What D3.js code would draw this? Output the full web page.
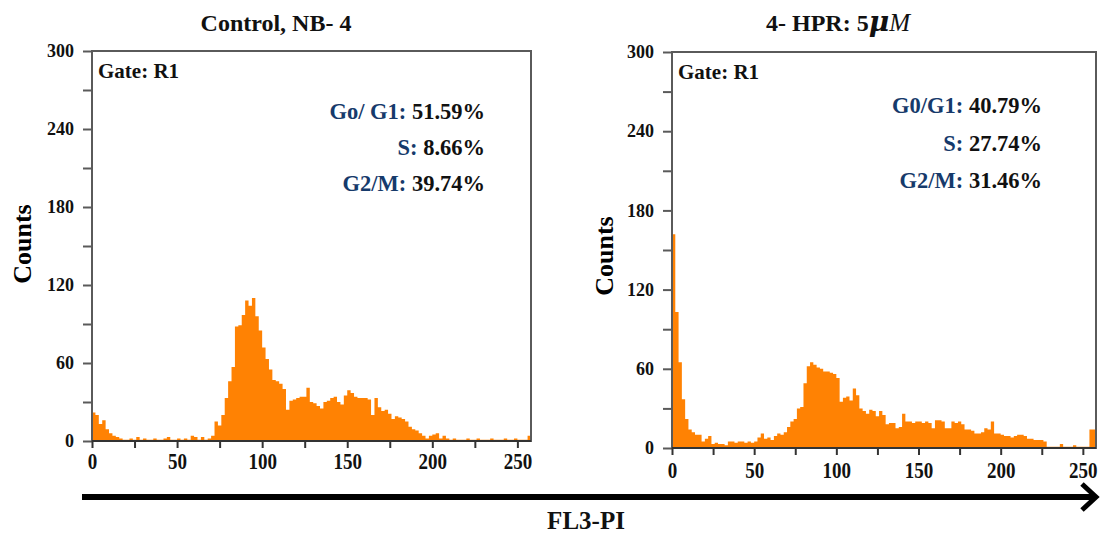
<!DOCTYPE html>
<html>
<head>
<meta charset="utf-8">
<script src="https://cdn.jsdelivr.net/npm/d3@7"></script>
<style>
  html, body { margin: 0; padding: 0; background: #fff; }
  svg { display: block; }
  text { font-family: "Liberation Serif", "DejaVu Serif", serif; font-weight: bold; }
</style>
</head>
<body>
<svg id="chart" width="1103" height="537"></svg>
<script>
// ---- data ----
const binWidth = 2; // channel width of each histogram bin (FL3-PI units)
const controlCounts = [
  22,20,13,16,9,6,4,3,2,1,
  1,2,1,3,1,2,1,1,2,1,
  1,2,3,1,1,2,1,2,1,4,
  3,1,3,1,2,4,15,12,20,33,
  46,57,88,89,97,108,104,110,96,85,
  72,63,55,47,46,44,40,24,31,32,
  33,34,34,41,30,29,27,25,30,31,
  33,34,30,28,35,39,37,34,33,33,
  33,32,20,33,26,23,24,21,17,19,
  18,17,15,11,9,8,6,4,2,4,
  5,6,2,4,2,1,2,1,1,1,
  2,1,1,2,1,1,1,2,1,1,
  1,2,1,1,2,1,1,1,4
];
const hprCounts = [
  162,103,65,37,22,14,12,10,10,5,
  7,9,3,4,3,3,2,5,5,4,
  5,5,4,5,4,5,8,11,7,8,
  6,9,11,10,12,16,20,22,30,31,
  49,62,65,63,61,60,58,58,57,56,
  53,35,38,39,36,45,40,30,28,26,
  29,28,24,28,25,18,19,19,15,16,
  26,20,20,19,20,20,19,20,19,15,
  21,21,20,15,15,20,19,20,18,14,
  14,13,11,11,12,15,14,20,11,11,
  10,9,9,8,9,10,10,9,7,7,
  6,6,6,5,1,1,1,1,3,1,
  1,1,2,1,1,1,1,14,14
];
const xTickLabels = [0, 50, 100, 150, 200, 250];
const xMinorTicks = [0, 25, 50, 75, 100, 125, 150, 175, 200, 225, 250];
const yTickLabels = [0, 60, 120, 180, 240, 300];
const yMinorTicks = [0, 30, 60, 90, 120, 150, 180, 210, 240, 270, 300];
const controlTitle = "Control, NB- 4";
const phaseLabels = ["Go/ G1:", "S:", "G2/M:"];
const controlPhases = ["51.59%", "8.66%", "39.74%"];
const hprPhaseLabels = ["G0/G1:", "S:", "G2/M:"];
const hprPhases = ["40.79%", "27.74%", "31.46%"];
const xDomainMax = 258;
const yDomainMax = 300;

// ---- drawing ----
const svg = d3.select("#chart");
const ORANGE = "#ff8203";
const FRAME = "#5a5a5a";
const BLUE = "#163a6b";
const XLAB_STRETCH = 1.25;

function drawPanel(p) {
  const x = d3.scaleLinear().domain([0, xDomainMax]).range([p.left, p.right]);
  const y = d3.scaleLinear().domain([0, yDomainMax]).range([p.bottom, p.top]);
  const g = svg.append("g");

  // histogram as step area
  const pts = p.counts.map((c, i) => ({ x: i * binWidth, c }));
  pts.push({ x: xDomainMax, c: p.counts[p.counts.length - 1] });
  const area = d3.area()
    .x(d => x(d.x))
    .y0(y(0))
    .y1(d => y(d.c))
    .curve(d3.curveStepAfter);
  g.append("path").datum(pts).attr("d", area).attr("fill", ORANGE);

  // frame
  g.append("rect")
    .attr("x", p.left).attr("y", p.top)
    .attr("width", p.right - p.left).attr("height", p.bottom - p.top)
    .attr("fill", "none").attr("stroke", FRAME).attr("stroke-width", 2);

  // y axis (minor ticks)
  const yAxisMinor = d3.axisLeft(y).tickValues(yMinorTicks).tickSize(9).tickFormat("");
  const ya = g.append("g").attr("transform", `translate(${p.left},0)`).call(yAxisMinor);
  ya.select(".domain").remove();
  ya.selectAll(".tick line").attr("stroke", FRAME).attr("stroke-width", 2);
  // y labels
  const yl = g.append("g").attr("transform", `translate(${p.left},0)`)
    .call(d3.axisLeft(y).tickValues(yTickLabels).tickSize(0).tickPadding(18).tickFormat(d3.format("d")));
  yl.select(".domain").remove();
  yl.selectAll("text").attr("font-size", 18).attr("fill", "#111")
    .style("font-family", "Liberation Serif, serif").style("font-weight", "bold");

  // x axis
  const xa = g.append("g").attr("transform", `translate(0,${p.bottom})`)
    .call(d3.axisBottom(x).tickValues(xMinorTicks).tickSize(7).tickFormat(""));
  xa.select(".domain").remove();
  xa.selectAll(".tick line").attr("stroke", "#333").attr("stroke-width", 2);
  const xl = g.append("g").attr("transform", `translate(0,${p.bottom})`)
    .call(d3.axisBottom(x).tickValues(xTickLabels).tickSize(0).tickPadding(p.xLabelPad).tickFormat(d3.format("d")));
  xl.select(".domain").remove();
  xl.selectAll("text").attr("font-size", 19).attr("fill", "#111")
    .attr("y", p.xLabelPad / XLAB_STRETCH)
    .attr("transform", `scale(1,${XLAB_STRETCH})`)
    .style("font-family", "Liberation Serif, serif").style("font-weight", "bold");

  // bottom axis line darker
  g.append("line").attr("x1", p.left).attr("x2", p.right)
    .attr("y1", p.bottom).attr("y2", p.bottom).attr("stroke", "#333").attr("stroke-width", 2);

  // Counts label
  g.append("text")
    .attr("transform", `translate(${p.countsX},${p.countsY}) rotate(-90)`)
    .attr("text-anchor", "middle").attr("font-size", 26).attr("fill", "#000")
    .text("Counts");

  // Gate label
  g.append("text").attr("x", p.left + 6).attr("y", p.gateY)
    .attr("font-size", 21).attr("fill", "#111").text("Gate: R1");

  // phase stats
  p.labels.forEach((lab, i) => {
    const t = g.append("text").attr("x", p.statsRight).attr("y", p.statsY[i])
      .attr("text-anchor", "end").attr("font-size", 22.5);
    t.append("tspan").attr("fill", BLUE).text(lab + " ");
    t.append("tspan").attr("fill", "#111").text(p.values[i]);
  });
}

drawPanel({
  left: 92, right: 531, top: 51, bottom: 441,
  counts: controlCounts, labels: phaseLabels, values: controlPhases,
  xLabelPad: 11, countsX: 31, countsY: 244, gateY: 78,
  statsRight: 485, statsY: [119, 155, 191]
});
drawPanel({
  left: 672, right: 1096, top: 52, bottom: 448,
  counts: hprCounts, labels: hprPhaseLabels, values: hprPhases,
  xLabelPad: 13, countsX: 613, countsY: 256, gateY: 79,
  statsRight: 1042, statsY: [113, 151, 188]
});

// titles
svg.append("text").attr("x", 276).attr("y", 31).attr("text-anchor", "middle")
  .attr("font-size", 24).attr("fill", "#111").text(controlTitle);
const t2 = svg.append("text").attr("x", 838).attr("y", 31).attr("text-anchor", "middle")
  .attr("font-size", 24).attr("fill", "#111");
t2.append("tspan").text("4- HPR: 5");
t2.append("tspan").attr("font-style", "italic").attr("font-size", 28)
  .style("font-family", "DejaVu Serif, serif").text("\u03BC");
t2.append("tspan").attr("font-style", "italic").attr("font-weight", "normal").attr("font-size", 25).text("M");

// bottom FL3-PI arrow
svg.append("line").attr("x1", 82).attr("x2", 1093).attr("y1", 497).attr("y2", 497)
  .attr("stroke", "#000").attr("stroke-width", 6);
svg.append("path").attr("d", "M1082,484 L1096,497 L1082,510")
  .attr("fill", "none").attr("stroke", "#000").attr("stroke-width", 5)
  .attr("stroke-linejoin", "miter");
svg.append("text").attr("x", 586).attr("y", 529).attr("text-anchor", "middle")
  .attr("font-size", 25).attr("fill", "#111").text("FL3-PI");
</script>
</body>
</html>
